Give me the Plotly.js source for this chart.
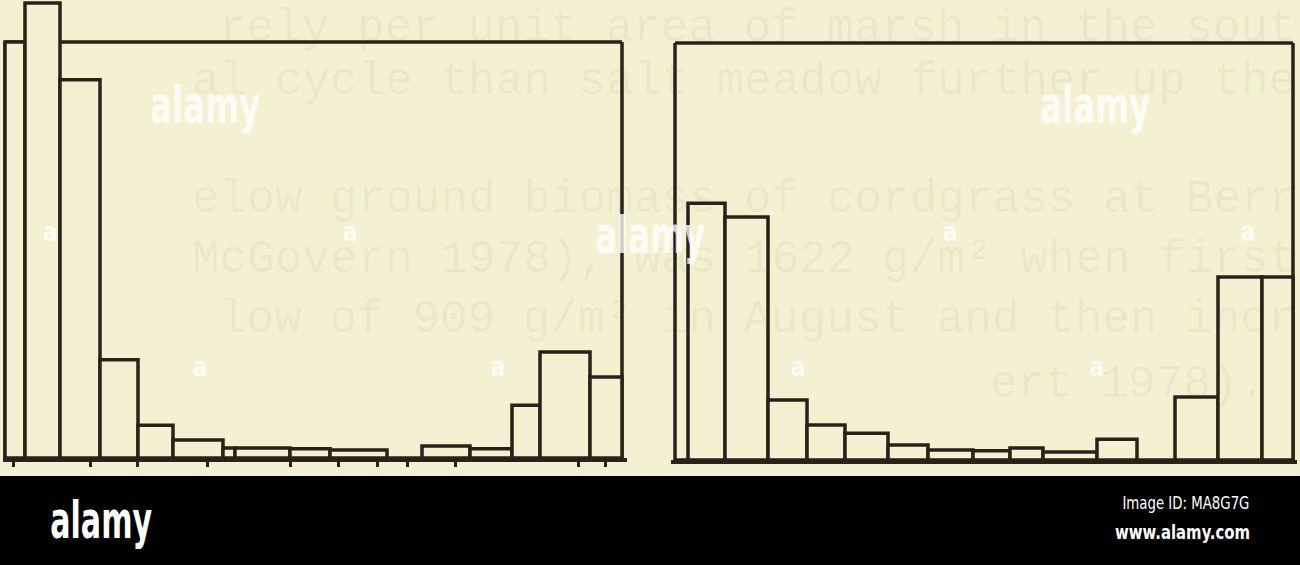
<!DOCTYPE html>
<html>
<head>
<meta charset="utf-8">
<script src="https://cdn.plot.ly/plotly-3.0.1.min.js"></script>
<style>
html,body{margin:0;padding:0;background:#f4f1d3;}
#chart{width:1300px;height:565px;}
</style>
</head>
<body>
<div id="chart"></div>
<script>
// ---- data (arbitrary size-class units) ----
// Left panel: bin edges and bar heights (frame top = 100)
const leftEdges  = [0, 20, 55, 95, 133, 168, 218, 230, 285, 325, 382, 417, 465, 507, 535, 585, 617];
const leftValues = [100, 109.4, 90.9, 23.6, 7.9, 4.3, 2.4, 2.4, 2.2, 1.9, 0, 2.9, 2.2, 12.7, 25.5, 19.5];
const leftTicks  = [8, 85, 132, 202, 285, 333, 372, 402, 450, 573, 600];

// Right panel: bin edges and bar heights (frame top = 100)
const rightEdges  = [0, 13, 50, 93, 132, 170, 213, 253, 298, 335, 368, 422, 462, 500, 543, 587, 618];
const rightValues = [0, 61.6, 58.3, 14.4, 8.4, 6.4, 3.6, 2.4, 2.2, 2.9, 1.9, 5.0, 0, 15.1, 43.9, 43.9];

// Faint show-through text of the scanned page
const ghostLines = [
  'rely per unit area of marsh in the sout',
  'al cycle than salt meadow further up the',
  'elow ground biomass of cordgrass at Berr',
  'McGovern 1978), was 1622 g/m\u00b2 when first',
  'low of 909 g/m\u00b2 in August and then incr',
  'ert 1978).'
];
const ghostY = [29, 82, 200, 260, 320, 385];

// ---- helpers ----
function mids(e){ const m=[]; for(let i=0;i<e.length-1;i++) m.push((e[i]+e[i+1])/2); return m; }
function widths(e){ const w=[]; for(let i=0;i<e.length-1;i++) w.push(e[i+1]-e[i]); return w; }

const INK = '#2a2118';
const BG  = '#f4f1d3';
const FRAME_TOP = 100;
const LW = 3.5;

const traces = [
  {type:'bar', x:mids(leftEdges), y:leftValues, width:widths(leftEdges),
   xaxis:'x', yaxis:'y', hoverinfo:'skip',
   marker:{color:BG, line:{color:INK, width:LW}}},
  {type:'bar', x:mids(rightEdges), y:rightValues, width:widths(rightEdges),
   xaxis:'x2', yaxis:'y2', hoverinfo:'skip',
   marker:{color:BG, line:{color:INK, width:LW}}}
];

const H = 565, W = 1300;
function py(p){ return (H - p)/H; }
function px(p){ return p/W; }

const axBase = {showgrid:false, zeroline:false, showticklabels:false,
  showline:true, mirror:false, linecolor:INK, linewidth:LW, layer:'below traces', fixedrange:true};

const NARROW = 'Liberation Sans Narrow, DejaVu Sans Condensed, DejaVu Sans, sans-serif';
const wm = (t, x, y, s) => ({text:t, x:px(x), y:py(y), xref:'paper', yref:'paper',
  showarrow:false, xanchor:'center', yanchor:'middle',
  font:{family:NARROW, size:s, color:'rgba(255,255,255,0.8)', weight:700}});

function frame(xr, yr, x1){
  const ln = {color:INK, width:LW};
  return [
    {type:'line', xref:xr, yref:yr, x0:0, x1:x1, y0:FRAME_TOP, y1:FRAME_TOP, line:ln, layer:'below'},
    {type:'line', xref:xr, yref:yr, x0:x1, x1:x1, y0:0, y1:FRAME_TOP, line:ln, layer:'below'},
    {type:'line', xref:xr, yref:yr, x0:0, x1:0, y0:0, y1:FRAME_TOP, line:ln, layer:'below'}
  ];
}

const ghostAnn = ghostLines.map((t,i)=>{
  const last = i === ghostLines.length-1;
  return {text:t, x:px(last ? 1268 : 1298), y:py(ghostY[i]), xref:'paper', yref:'paper',
    showarrow:false, xanchor:'right', yanchor:'middle',
    font:{family:'Liberation Mono, DejaVu Sans Mono, monospace', size:46, color:'rgba(95,85,45,0.075)'}};
});

const layout = {
  width:W, height:H, margin:{l:0,r:0,t:0,b:0},
  paper_bgcolor:BG, plot_bgcolor:'rgba(0,0,0,0)',
  showlegend:false, barmode:'overlay',
  xaxis: Object.assign({}, axBase, {domain:[px(3), px(627)], range:[-2,622], anchor:'y',
     tickmode:'array', tickvals:leftTicks, ticks:'outside', ticklen:5, tickwidth:3, tickcolor:INK}),
  yaxis: Object.assign({}, axBase, {showline:false, domain:[py(458), py(1)], range:[0, FRAME_TOP*457/416], anchor:'x'}),
  xaxis2: Object.assign({}, axBase, {domain:[px(671), px(1297)], range:[-4,622], anchor:'y2'}),
  yaxis2: Object.assign({}, axBase, {showline:false, domain:[py(460), py(37)], range:[0, FRAME_TOP*423/417], anchor:'x2'}),
  shapes: [].concat(frame('x','y',617), frame('x2','y2',618), [
    {type:'rect', xref:'paper', yref:'paper', x0:0, x1:1, y0:0, y1:py(476), fillcolor:'#000', line:{width:0}, layer:'above'}
  ]),
  annotations: ghostAnn.concat([
    wm('alamy', 205, 105, 52), wm('alamy', 1095, 105, 52), wm('alamy', 650, 235, 52),
    wm('a', 50, 232, 26), wm('a', 350, 232, 26), wm('a', 950, 232, 26), wm('a', 1248, 232, 26),
    wm('a', 200, 367, 26), wm('a', 498, 367, 26), wm('a', 798, 367, 26), wm('a', 1097, 367, 26),
    {text:'alamy', x:px(101), y:py(520), xref:'paper', yref:'paper', showarrow:false, xanchor:'center', yanchor:'middle',
     font:{family:NARROW, size:52, color:'#fff', weight:700}},
    {text:'Image ID: MA8G7G', x:px(1186), y:py(503), xref:'paper', yref:'paper', showarrow:false, xanchor:'center', yanchor:'middle',
     font:{family:NARROW, size:17, color:'#fff'}},
    {text:'www.alamy.com', x:px(1182), y:py(532), xref:'paper', yref:'paper', showarrow:false, xanchor:'center', yanchor:'middle',
     font:{family:NARROW, size:20, color:'#fff', weight:700}}
  ])
};

Plotly.newPlot('chart', traces, layout, {staticPlot:true, displayModeBar:false}).then(()=>{
  document.querySelectorAll('g.annotation').forEach(g=>{
    const t = g.querySelector('text.annotation-text');
    if(!t) return;
    const s = t.textContent;
    let L = null;
    if(s === 'alamy') L = (+g.getAttribute('data-index') > 15) ? 102 : 110;
    else if(s === 'a') L = 14;
    else if(s === 'Image ID: MA8G7G') L = 127;
    else if(s === 'www.alamy.com') L = 135;
    if(L){ t.setAttribute('textLength', L); t.setAttribute('lengthAdjust', 'spacingAndGlyphs'); }
  });
});
</script>
</body>
</html>
